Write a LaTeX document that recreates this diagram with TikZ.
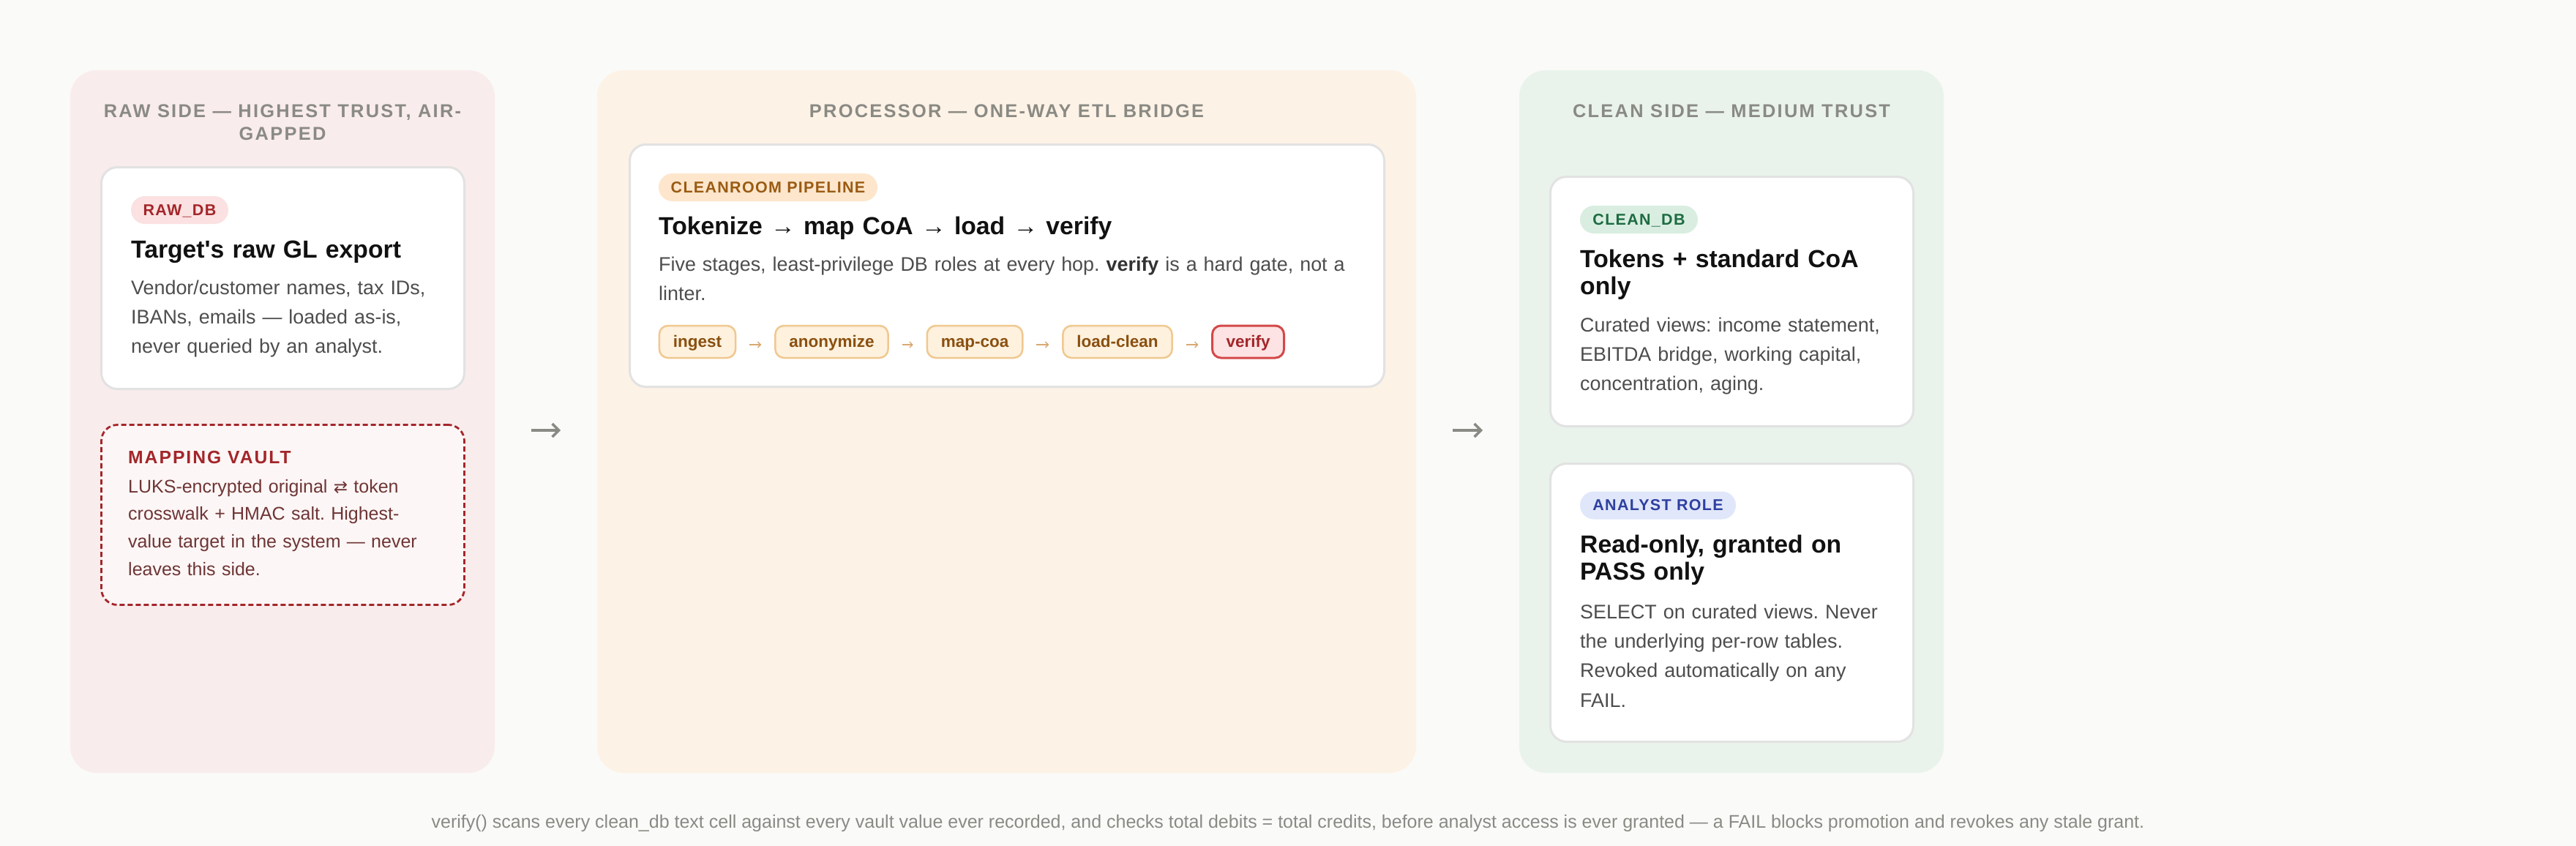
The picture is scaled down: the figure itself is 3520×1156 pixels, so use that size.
\documentclass[tikz,border=0pt]{standalone}
\usepackage{fontspec}
\setmainfont{Liberation Sans}
\newfontfamily\hdrfont[LetterSpace=9]{Liberation Sans}
\newfontfamily\pillfont[LetterSpace=6]{Liberation Sans}
\newfontfamily\vaultfont[LetterSpace=8]{Liberation Sans}
\newfontfamily\symfont{DejaVu Sans}
\usetikzlibrary{arrows.meta}
\frenchspacing
\newcommand\pillspace{\spaceskip=7.3pt\relax}
\newcommand\vaultspace{\spaceskip=8.9pt\relax}
\newcommand\hdrspace{\spaceskip=9.4pt\relax}
\definecolor{bg}{HTML}{FAFAF8}
\definecolor{rawbg}{HTML}{F9ECEC}
\definecolor{procbg}{HTML}{FDF2E6}
\definecolor{cleanbg}{HTML}{E9F3EC}
\definecolor{cardline}{HTML}{E2E2E2}
\definecolor{hdrgray}{HTML}{8A8A84}
\definecolor{titlecol}{HTML}{111111}
\definecolor{bodycol}{HTML}{4D4D4D}
\definecolor{rawpillfill}{HTML}{FBE1E1}
\definecolor{rawpilltext}{HTML}{A3262A}
\definecolor{procpillfill}{HTML}{FDE6CC}
\definecolor{procpilltext}{HTML}{9A5B12}
\definecolor{cleanpillfill}{HTML}{D9EEE1}
\definecolor{cleanpilltext}{HTML}{1E6B42}
\definecolor{anpillfill}{HTML}{E1E7FA}
\definecolor{anpilltext}{HTML}{2E40A0}
\definecolor{vaultfill}{HTML}{FDF6F6}
\definecolor{vaultline}{HTML}{A3262A}
\definecolor{vaulttext}{HTML}{6E3535}
\definecolor{chipfill}{HTML}{FEF1DE}
\definecolor{chipline}{HTML}{F0C890}
\definecolor{chiptext}{HTML}{8A5010}
\definecolor{verifyfill}{HTML}{FDE3E3}
\definecolor{verifyline}{HTML}{D44848}
\definecolor{verifytext}{HTML}{A3262A}
\definecolor{chiparrowcol}{HTML}{D9A873}
\definecolor{arrowgray}{HTML}{8A8A85}
\definecolor{footcol}{HTML}{8A8A85}
\definecolor{boldbody}{HTML}{333333}
\begin{document}
\begin{tikzpicture}[x=1pt,y=-1pt,
  panel/.style={rounded corners=36pt, draw=none, inner sep=0pt, outer sep=0pt, anchor=north west, minimum width=580pt, minimum height=960pt},
  card/.style={fill=white, draw=cardline, line width=3pt, rounded corners=22pt, inner sep=0pt, outer sep=0pt, anchor=north west, minimum width=496pt},
  hdr/.style={font=\hdrfont\bfseries\fontsize{25.4}{31}\selectfont, text=hdrgray, inner sep=0pt, align=center, anchor=base},
  pill/.style={rounded corners=19pt, minimum height=38pt, inner xsep=0pt, inner ysep=0pt, outer sep=0pt, anchor=west,
    font=\pillfont\bfseries\fontsize{21.5}{26}\selectfont, text height=19.5pt, text depth=4.6pt},
  ttl/.style={font=\bfseries\fontsize{33.7}{37}\selectfont, text=titlecol, inner sep=0pt, anchor=base west, align=left, text width=460pt},
  bdy/.style={font=\fontsize{26.9}{40.4}\selectfont, text=bodycol, inner sep=0pt, anchor=base west, align=left, text width=460pt},
  vaultbox/.style={fill=vaultfill, draw=vaultline, line width=2.8pt, dash pattern=on 7pt off 4pt, rounded corners=22pt, inner sep=0pt, outer sep=0pt, anchor=north west, minimum width=496pt, minimum height=246pt},
  chip/.style={draw=chipline, fill=chipfill, text=chiptext, line width=2.5pt, rounded corners=12pt, minimum height=44pt, inner xsep=19pt, inner ysep=0pt, outer sep=0pt,
    font=\bfseries\fontsize{22.5}{27}\selectfont, text height=20.4pt, text depth=4.8pt},
  verifychip/.style={chip, draw=verifyline, fill=verifyfill, text=verifytext, line width=3pt},
  chiparrow/.style={draw=chiparrowcol, line width=1.4pt, -{Straight Barb[length=4pt,width=8pt]}, shorten <=19pt, shorten >=19pt},
  bigarrow/.style={draw=arrowgray, line width=3.5pt, -{Straight Barb[length=9pt,width=18pt]}, shorten <=50pt, shorten >=50pt}
]
\useasboundingbox (0,0) rectangle (3520,1156);
\fill[bg] (0,0) rectangle (3520,1156);

% panels
\node[panel, fill=rawbg] (raw) at (96,96) {};
\node[panel, fill=procbg, minimum width=1119pt] (proc) at (816,96) {};
\node[panel, fill=cleanbg] (clean) at (2076,96) {};

% headers
\node[hdr, text width=540pt] (rawhdr) at (386,160) {\hdrspace RAW SIDE — HIGHEST TRUST, AIR-\\GAPPED};
\node[hdr, text width=1000pt] (prochdr) at (1375.5,160) {\hdrspace PROCESSOR — ONE-WAY ETL BRIDGE};
\node[hdr, text width=540pt] (cleanhdr) at (2366,160) {\hdrspace CLEAN SIDE — MEDIUM TRUST};

% raw card
\node[card, minimum height=303pt] (rawcard) at (138.5,228.5) {};
\node[pill, fill=rawpillfill, text=rawpilltext, minimum width=133pt] (rawpill) at (179,287) {RAW\_DB};
\node[ttl] (rawttl) at (179,352) {Target\textquotesingle s raw GL export};
\node[bdy] (rawbody) at (179,402) {Vendor/customer names, tax IDs,\\IBANs, emails — loaded as-is,\\never queried by an analyst.};

% vault
\node[vaultbox] (vault) at (138.5,580.5) {};
\node[font=\vaultfont\bfseries\fontsize{24.7}{30}\selectfont, text=vaultline, inner sep=0pt, anchor=base west] (vaultttl) at (175,633) {\vaultspace MAPPING VAULT};
\node[font=\fontsize{25}{37.7}\selectfont, text=vaulttext, inner sep=0pt, anchor=base west, align=left, text width=440pt] (vaultbody) at (175,673)
  {LUKS-encrypted original {\symfont\fontsize{23}{37.7}\selectfont ⇄} token\\crosswalk + HMAC salt. Highest-\\value target in the system — never\\leaves this side.};

% processor card
\node[card, minimum width=1031pt, minimum height=331pt] (proccard) at (860.5,197.5) {};
\node[pill, fill=procpillfill, text=procpilltext, minimum width=299pt] (procpill) at (900,256) {\pillspace CLEANROOM PIPELINE};
\node[ttl, text width=960pt] (procttl) at (900,320) {Tokenize → map CoA → load → verify};
\node[bdy, text width=960pt] (procbody) at (900,370) {Five stages, least-privilege DB roles at every hop. {\bfseries\color{boldbody}verify} is a hard gate, not a\\linter.};

\node[chip] (ingest) at (953,467) {ingest};
\node[chip] (anon) at (1136.5,467) {anonymize};
\node[chip] (mapcoa) at (1332,467) {map-coa};
\node[chip] (loadclean) at (1527,467) {load-clean};
\node[verifychip] (verify) at (1705.5,467) {verify};
\draw[chiparrow] ([yshift=-4pt]ingest.east) -- ([yshift=-4pt]anon.west);
\draw[chiparrow] ([yshift=-4pt]anon.east) -- ([yshift=-4pt]mapcoa.west);
\draw[chiparrow] ([yshift=-4pt]mapcoa.east) -- ([yshift=-4pt]loadclean.west);
\draw[chiparrow] ([yshift=-4pt]loadclean.east) -- ([yshift=-4pt]verify.west);

% clean card
\node[card, minimum height=341pt] (cleancard) at (2118.5,241.5) {};
\node[pill, fill=cleanpillfill, text=cleanpilltext, minimum width=161pt] (cleanpill) at (2159,300) {CLEAN\_DB};
\node[ttl] (cleanttl) at (2159,365) {Tokens + standard CoA\\only};
\node[bdy] (cleanbody) at (2159,453) {Curated views: income statement,\\EBITDA bridge, working capital,\\concentration, aging.};

% analyst card
\node[card, minimum height=380pt] (ancard) at (2118.5,633.5) {};
\node[pill, fill=anpillfill, text=anpilltext, minimum width=213pt] (anpill) at (2159,690.5) {\pillspace ANALYST ROLE};
\node[ttl] (anttl) at (2159,755) {Read-only, granted on\\PASS only};
\node[bdy] (anbody) at (2159,845) {SELECT on curated views. Never\\the underlying per-row tables.\\Revoked automatically on any\\FAIL.};

% big arrows
\draw[bigarrow] ([yshift=-12pt]raw.east) -- ([yshift=-12pt]proc.west);
\draw[bigarrow] ([yshift=-12pt]proc.east) -- ([yshift=-12pt]clean.west);

% footer
\node[font=\fontsize{25}{30}\selectfont, text=footcol, inner sep=0pt, anchor=base] (foot) at (1760,1131)
  {verify() scans every clean\_db text cell against every vault value ever recorded, and checks total debits = total credits, before analyst access is ever granted — a FAIL blocks promotion and revokes any stale grant.};
\end{tikzpicture}
\end{document}
